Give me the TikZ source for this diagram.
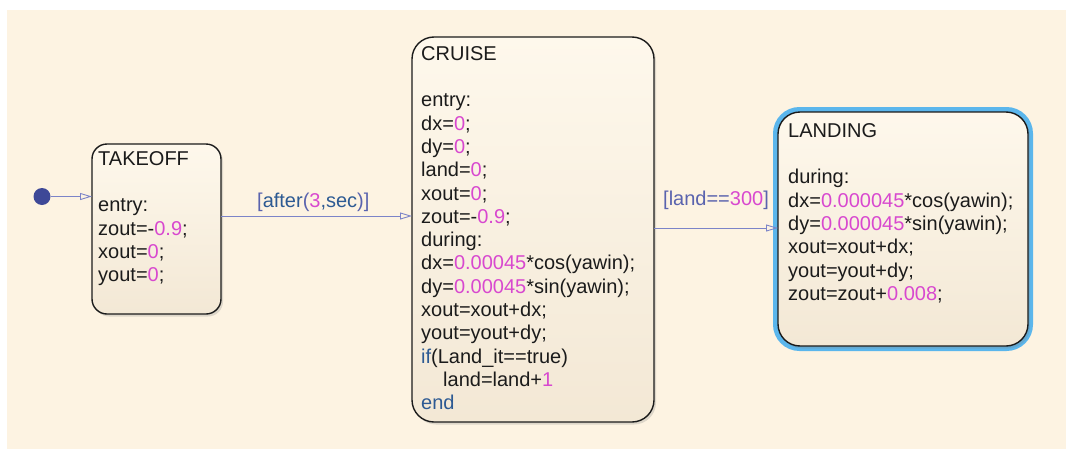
\documentclass[tikz,border=0pt]{standalone}
\usepackage{fontspec}
\setmainfont{Liberation Sans}
\usetikzlibrary{arrows.meta,shadows}
\definecolor{bgcream}{HTML}{FDF3E2}
\definecolor{boxtop}{HTML}{FEF8EC}
\definecolor{boxbot}{HTML}{F3E8D5}
\definecolor{num}{HTML}{D848CF}
\definecolor{kw}{HTML}{2D5A93}
\definecolor{lab}{HTML}{5A63AE}
\definecolor{trans}{HTML}{7C84C8}
\definecolor{initc}{HTML}{3E4897}
\definecolor{txt}{HTML}{1B1B1B}
\definecolor{sel}{HTML}{5BB6EC}
\newcommand{\nm}[1]{\textcolor{num}{#1}}
\newcommand{\kwd}[1]{\textcolor{kw}{#1}}
\newcommand{\lb}[1]{\textcolor{lab}{#1}}
\begin{document}
\begin{tikzpicture}[x=1pt,y=-1pt,
  statebox/.style={draw=txt, line width=1.4pt, inner sep=0pt, outer sep=0pt,
    top color=boxtop, bottom color=boxbot,
    drop shadow={shadow xshift=2pt, shadow yshift=-2.5pt, opacity=0.25}},
  code/.style={anchor=north west, inner sep=0pt, align=left, text=txt,
    font=\fontsize{20}{23.3}\selectfont},
  label/.style={anchor=base west, inner sep=0pt, font=\fontsize{20}{23.3}\selectfont},
  trans/.style={draw=trans, line width=0.9pt, -{Triangle[open, length=12pt, width=7pt]}}
]
\useasboundingbox (0,0) rectangle (1066,450);
\fill[white] (0,0) rectangle (1066,450);
\fill[bgcream] (7,10) rectangle (1066,449);

% states
\node[statebox, rounded corners=15pt, minimum width=129pt, minimum height=170pt] (takeoff) at (156.5,229) {};
\node[statebox, rounded corners=22pt, minimum width=242pt, minimum height=385pt] (cruise) at (533,229.5) {};
\node[draw=sel, line width=5pt, rounded corners=24pt, minimum width=255pt, minimum height=239pt, inner sep=0pt, outer sep=0pt] (landsel) at (903,229) {};
\node[statebox, drop shadow={opacity=0}, rounded corners=22pt, minimum width=250pt, minimum height=234pt] (landing) at (903,229) {};

% texts
\node[code] (ttext) at (98,149) {\rule{0pt}{16pt}TAKEOFF\\[23.3pt]
entry:\\
zout=-\nm{0.9};\\
xout=\nm{0};\\
yout=\nm{0};};

\node[code] (ctext) at (421,44) {\rule{0pt}{16pt}CRUISE\\[23.3pt]
entry:\\
dx=\nm{0};\\
dy=\nm{0};\\
land=\nm{0};\\
xout=\nm{0};\\
zout=-\nm{0.9};\\
during:\\
dx=\nm{0.00045}*cos(yawin);\\
dy=\nm{0.00045}*sin(yawin);\\
xout=xout+dx;\\
yout=yout+dy;\\
\kwd{if}(Land\_it==true)\\
\hspace*{22pt}land=land+\nm{1}\\
\kwd{end}};

\node[code] (ltext) at (788,121) {\rule{0pt}{16pt}LANDING\\[23.3pt]
during:\\
dx=\nm{0.000045}*cos(yawin);\\
dy=\nm{0.000045}*sin(yawin);\\
xout=xout+dx;\\
yout=yout+dy;\\
zout=zout+\nm{0.008};};

% initial transition
\node[circle, fill=initc, minimum size=17pt, inner sep=0pt] (init) at (42,196.5) {};
\draw[trans] (init.east) -- (init.east -| takeoff.west);

% transitions
\coordinate (t1) at (0,216);
\coordinate (t2) at (0,228);
\draw[trans] (takeoff.east |- t1) -- (cruise.west |- t1);
\draw[trans] (cruise.east |- t2) -- (landing.west |- t2);

\node[label] (l1) at (257,207) {\lb{[}\kwd{after}\lb{(}\nm{3}\kwd{,sec}\lb{)]}};
\node[label] (l2) at (663,205) {\lb{[land==}\nm{300}\lb{]}};
\end{tikzpicture}
\end{document}
